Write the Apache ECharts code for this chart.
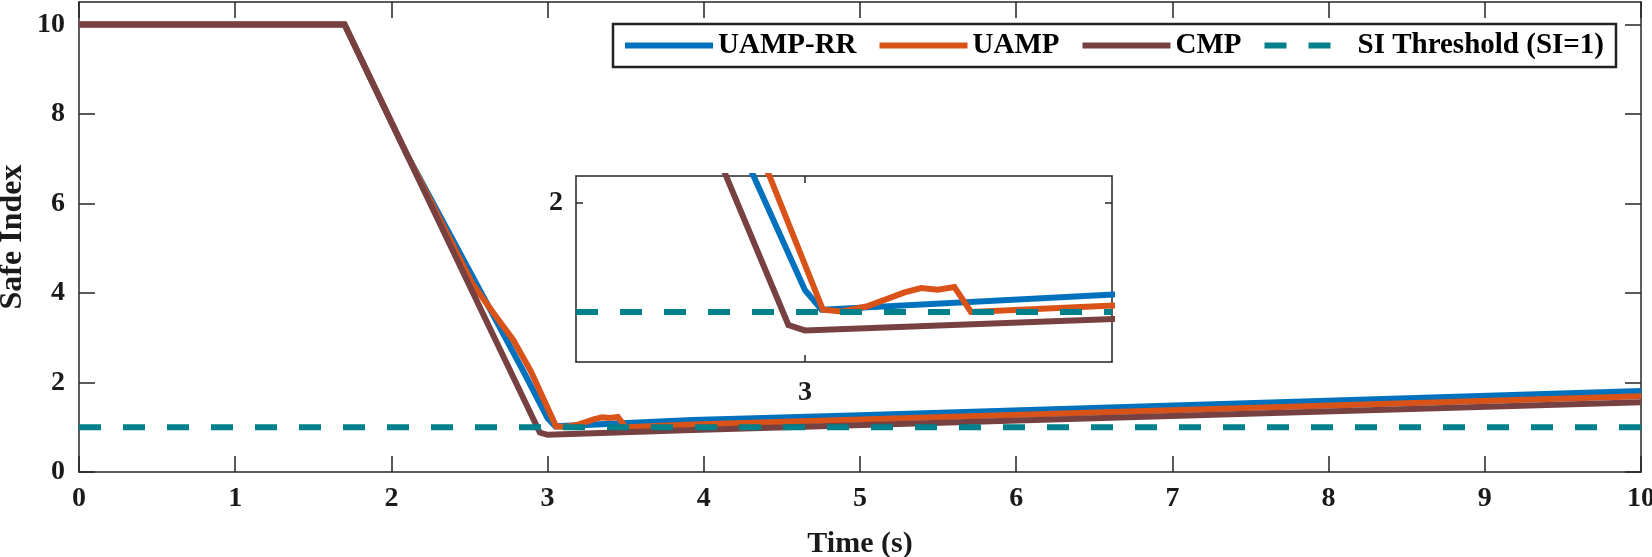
<!DOCTYPE html>
<html>
<head>
<meta charset="utf-8">
<script src="https://cdn.jsdelivr.net/npm/echarts@6/dist/echarts.min.js"></script>
<style>
html,body{margin:0;padding:0;background:#fff;}
#chart{width:1652px;height:557px;}
</style>
</head>
<body>
<div id="chart"></div>
<script>
// ---- data ----
const seriesNames = ['UAMP-RR', 'UAMP', 'CMP', 'SI Threshold (SI=1)'];
const uampRR_t = [0, 1.70, 2.10, 2.845, 3.00, 3.05, 3.93, 5.0, 10];
const uampRR_v = [10, 10, 7.09, 2.25, 1.20, 1.02, 1.16, 1.27, 1.81];
const uamp_t = [0, 1.70, 2.10, 2.52, 2.674, 2.78, 2.893, 3.054, 3.11, 3.185, 3.30, 3.35, 3.40, 3.45, 3.50, 3.93, 10];
const uamp_v = [10, 10, 7.09, 4.2, 3.45, 2.95, 2.25, 1.02, 1.005, 1.05, 1.18, 1.22, 1.205, 1.23, 1.0, 1.06, 1.69];
const cmp_t = [0, 1.70, 2.95, 3.00, 3.93, 10];
const cmp_v = [10, 10, 0.88, 0.83, 0.936, 1.56];
const threshold = 1;
const xTicks = [0, 1, 2, 3, 4, 5, 6, 7, 8, 9, 10];
const yTicks = [0, 2, 4, 6, 8, 10];
const insetXTicks = [3];
const insetYTicks = [2];

// ---- layout / style ----
const mainX = [0, 10], mainY = [0, 10.5];
const insetX = [2.31, 3.925], insetY = [0.54, 2.25];
const colors = ['#0072BD', '#D95319', '#774141', '#00808A'];
const FONT = 'Liberation Serif, Times New Roman, serif';
const axisColor = '#262626';

const pairs = (t, v) => t.map((x, i) => [x, v[i]]);
const seriesData = [pairs(uampRR_t, uampRR_v), pairs(uamp_t, uamp_v), pairs(cmp_t, cmp_v)];

function ax(grid, range, ticks, pos, showLabel, tickLen, margin) {
  return {
    type: 'value', gridIndex: grid, min: range[0], max: range[1], position: pos,
    axisLine: { show: true, onZero: false, lineStyle: { color: axisColor, width: 1.5 } },
    axisTick: { show: true, inside: true, length: tickLen, customValues: ticks, lineStyle: { color: axisColor, width: 1.5 } },
    axisLabel: { show: showLabel, customValues: ticks, margin: margin, color: '#1a1a1a', fontFamily: FONT, fontWeight: 'bold', fontSize: 28 },
    splitLine: { show: false }
  };
}

const xAxes = [
  Object.assign(ax(0, mainX, xTicks, 'bottom', true, 16, 13), {
    name: 'Time (s)', nameLocation: 'middle', nameGap: 57,
    nameTextStyle: { color: '#1a1a1a', fontFamily: FONT, fontWeight: 'bold', fontSize: 30 }
  }),
  ax(0, mainX, xTicks, 'top', false, 16, 16),
  ax(1, insetX, insetXTicks, 'bottom', true, 7, 17),
  ax(1, insetX, insetXTicks, 'top', false, 7, 17)
];
const yAxes = [
  Object.assign(ax(0, mainY, yTicks, 'left', true, 16, 14), {
    name: 'Safe Index', nameLocation: 'middle', nameGap: 50, nameMoveOverlap: false,
    nameTextStyle: { color: '#1a1a1a', fontFamily: FONT, fontWeight: 'bold', fontSize: 32 }
  }),
  ax(0, mainY, yTicks, 'right', false, 16, 14),
  ax(1, insetY, insetYTicks, 'left', true, 7, 13),
  ax(1, insetY, insetYTicks, 'right', false, 7, 13)
];

const series = [];
[0, 1].forEach(function (g) {
  const xr = g === 0 ? mainX : insetX;
  seriesData.forEach(function (d, i) {
    series.push({
      name: seriesNames[i], type: 'line', xAxisIndex: g * 2, yAxisIndex: g * 2,
      data: d, symbol: 'none', showSymbol: false, clip: true, z: 2 + i,
      lineStyle: { color: colors[i], width: 6, cap: 'butt', join: 'miter' },
      itemStyle: { color: colors[i] }, animation: false, silent: true
    });
  });
  series.push({
    name: seriesNames[3], type: 'line', xAxisIndex: g * 2, yAxisIndex: g * 2,
    data: [[xr[0], threshold], [xr[1], threshold]], symbol: 'none', showSymbol: false, z: 6,
    lineStyle: { color: colors[3], width: 6, type: [22, 22], cap: 'butt' },
    itemStyle: { color: colors[3] }, animation: false, silent: true
  });
});

const chart = echarts.init(document.getElementById('chart'), null, { renderer: 'canvas' });
chart.setOption({
  animation: false,
  backgroundColor: '#fff',
  grid: [
    { left: 79, top: 2, width: 1562, height: 470, containLabel: false, outerBoundsMode: 'none' },
    { left: 576, top: 176, width: 536, height: 186, containLabel: false, outerBoundsMode: 'none', show: true, backgroundColor: '#fff', borderWidth: 0 }
  ],
  xAxis: xAxes,
  yAxis: yAxes,
  legend: {
    data: seriesNames, left: 613, top: 24, orient: 'horizontal',
    padding: [7, 12, 7, 9], itemGap: 20, itemWidth: 88, itemHeight: 24,
    borderColor: '#222', borderWidth: 2.5, backgroundColor: '#fff',
    lineStyle: { width: 6 },
    itemStyle: { color: 'rgba(0,0,0,0)', borderWidth: 0, opacity: 0 },
    textStyle: { color: '#000', fontFamily: FONT, fontWeight: 'bold', fontSize: 29 },
    selectedMode: false
  },
  series: series
});
</script>
</body>
</html>
